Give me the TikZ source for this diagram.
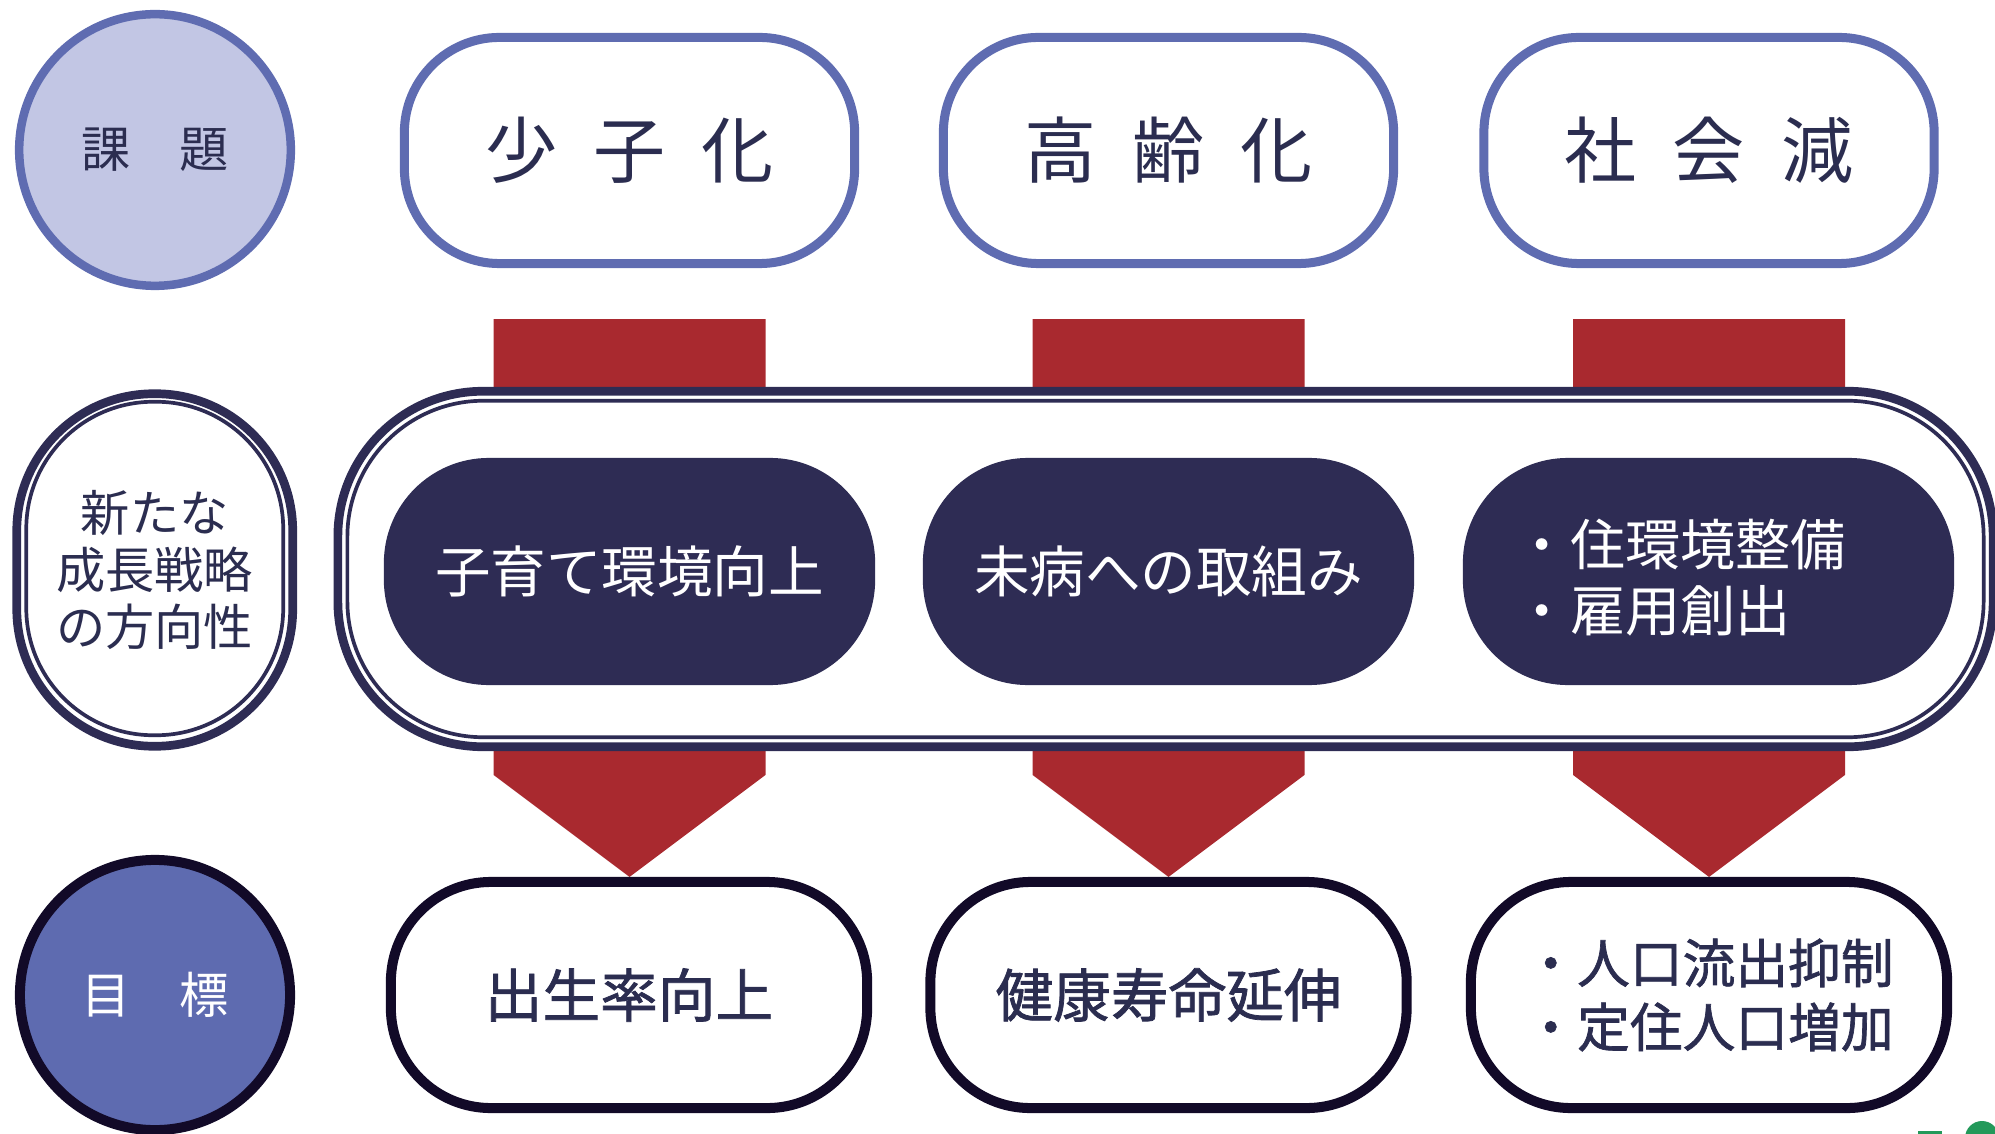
\documentclass[tikz,border=0pt]{standalone}
\usepackage{fontspec}
\setmainfont{Noto Sans CJK JP}
\newfontfamily\jpmed[FakeBold=1.3]{Noto Sans CJK JP}
\usetikzlibrary{calc,backgrounds}
\definecolor{bluebd}{HTML}{5F6CB1}
\definecolor{lightfill}{HTML}{C2C6E4}
\definecolor{navy}{HTML}{2E2C54}
\definecolor{darkbd}{HTML}{120A28}
\definecolor{redc}{HTML}{A9292F}
\definecolor{txtc}{HTML}{2B2D50}
\definecolor{goalfill}{HTML}{5E6BB0}
\definecolor{greenc}{HTML}{23995A}
\begin{document}
\begin{tikzpicture}[x=0.01cm, y=-0.01cm,
  issue/.style={rectangle, draw=bluebd, line width=0.09cm, fill=white, rounded corners=0.95cm,
    minimum width=4.5cm, minimum height=2.26cm, inner sep=0pt, text=txtc,
    font=\fontsize{20.5}{24}\selectfont},
  roundlabel/.style={circle, inner sep=0pt, font=\fontsize{14}{16}\selectfont},
  stratouter/.style={rectangle, draw=navy, line width=0.087cm, fill=white},
  stratinner/.style={rectangle, draw=navy, line width=0.037cm},
  measure/.style={rectangle, fill=navy, rounded corners=1.05cm, minimum width=4.91cm,
    minimum height=2.27cm, inner sep=0pt, text=white, font=\fontsize{15.8}{18.8}\selectfont},
  goal/.style={rectangle, draw=darkbd, line width=0.10cm, fill=white, rounded corners=1cm,
    minimum width=4.76cm, minimum height=2.26cm, inner sep=0pt, text=txtc,
    font=\jpmed\fontsize{16.4}{18.8}\selectfont},
  arrowfill/.style={fill=redc}
]
\useasboundingbox (0,0) rectangle (1995,1134);

% left column labels
\node[roundlabel, draw=bluebd, fill=lightfill, line width=0.085cm, minimum size=2.715cm, text=txtc]
  (kadai) at (155,150) {課\hspace{1em}題};
\node[stratouter, rounded corners=1.37cm, minimum width=2.758cm, minimum height=3.523cm,
  align=center, text=txtc, font=\fontsize{14}{16.1}\selectfont]
  (senryaku) at (154.75,570) {新たな\\成長戦略\\の方向性};
\node[stratinner, rounded corners=1.27cm, minimum width=2.568cm, minimum height=3.333cm]
  (senryakuin) at (154.75,568.5) {};
\node[roundlabel, draw=darkbd, fill=goalfill, line width=0.10cm, minimum size=2.7cm, text=white]
  (mokuhyo) at (155,995) {目\hspace{1em}標};

% issues
\node[issue] (t1) at (629.5,150.5) {\raisebox{-0.03cm}{少\hspace{0.5em}子\hspace{0.5em}化}};
\node[issue] (t2) at (1168.5,150.5) {\raisebox{-0.03cm}{高\hspace{0.5em}齢\hspace{0.5em}化}};
\node[issue] (t3) at (1709,150.5) {\raisebox{-0.03cm}{社\hspace{0.5em}会\hspace{0.5em}減}};

% goals
\node[goal] (g1) at (629,995) {\raisebox{-0.06cm}{出生率向上}};
\node[goal] (g2) at (1168.5,995) {\raisebox{-0.06cm}{健康寿命延伸}};
\node[goal, align=left, font=\jpmed\fontsize{15}{18.2}\selectfont] (g3) at (1709,995) {・人口流出抑制\\・定住人口増加};

% red arrows (behind)
\begin{scope}[on background layer]
\foreach \i in {1,2,3}{
  \coordinate (tip\i) at (t\i.south |- g\i.north);
  \fill[arrowfill] ($(t\i.south)+(-136,51)$) -- ($(t\i.south)+(136,51)$)
    -- ($(tip\i)+(136,-102)$) -- (tip\i) -- ($(tip\i)+(-136,-102)$) -- cycle;
}
\end{scope}

% strategy frame
\node[stratouter, rounded corners=1.45cm, minimum width=16.543cm, minimum height=3.553cm]
  (frame) at (1165.5,569) {};
\node[stratinner, rounded corners=1.36cm, minimum width=16.353cm, minimum height=3.363cm]
  (framein) at (1165.5,569) {};

% measures
\node[measure] (d1) at (629.5,571.5) {子育て環境向上};
\node[measure] (d2) at (1168.5,571.5) {未病への取組み};
\node[measure] (d3) at (1708.5,571.5) {};
\node[text=white, align=left, inner sep=0pt, font=\fontsize{15.7}{18.8}\selectfont]
  (d3text) at ($(d3.center)+(-28,6)$) {・住環境整備\\・雇用創出};

% partial green mark at the corner
\fill[greenc] (1918,1131) rectangle (1942,1134);
\fill[greenc] (1982,1138) circle (17);
\end{tikzpicture}
\end{document}
